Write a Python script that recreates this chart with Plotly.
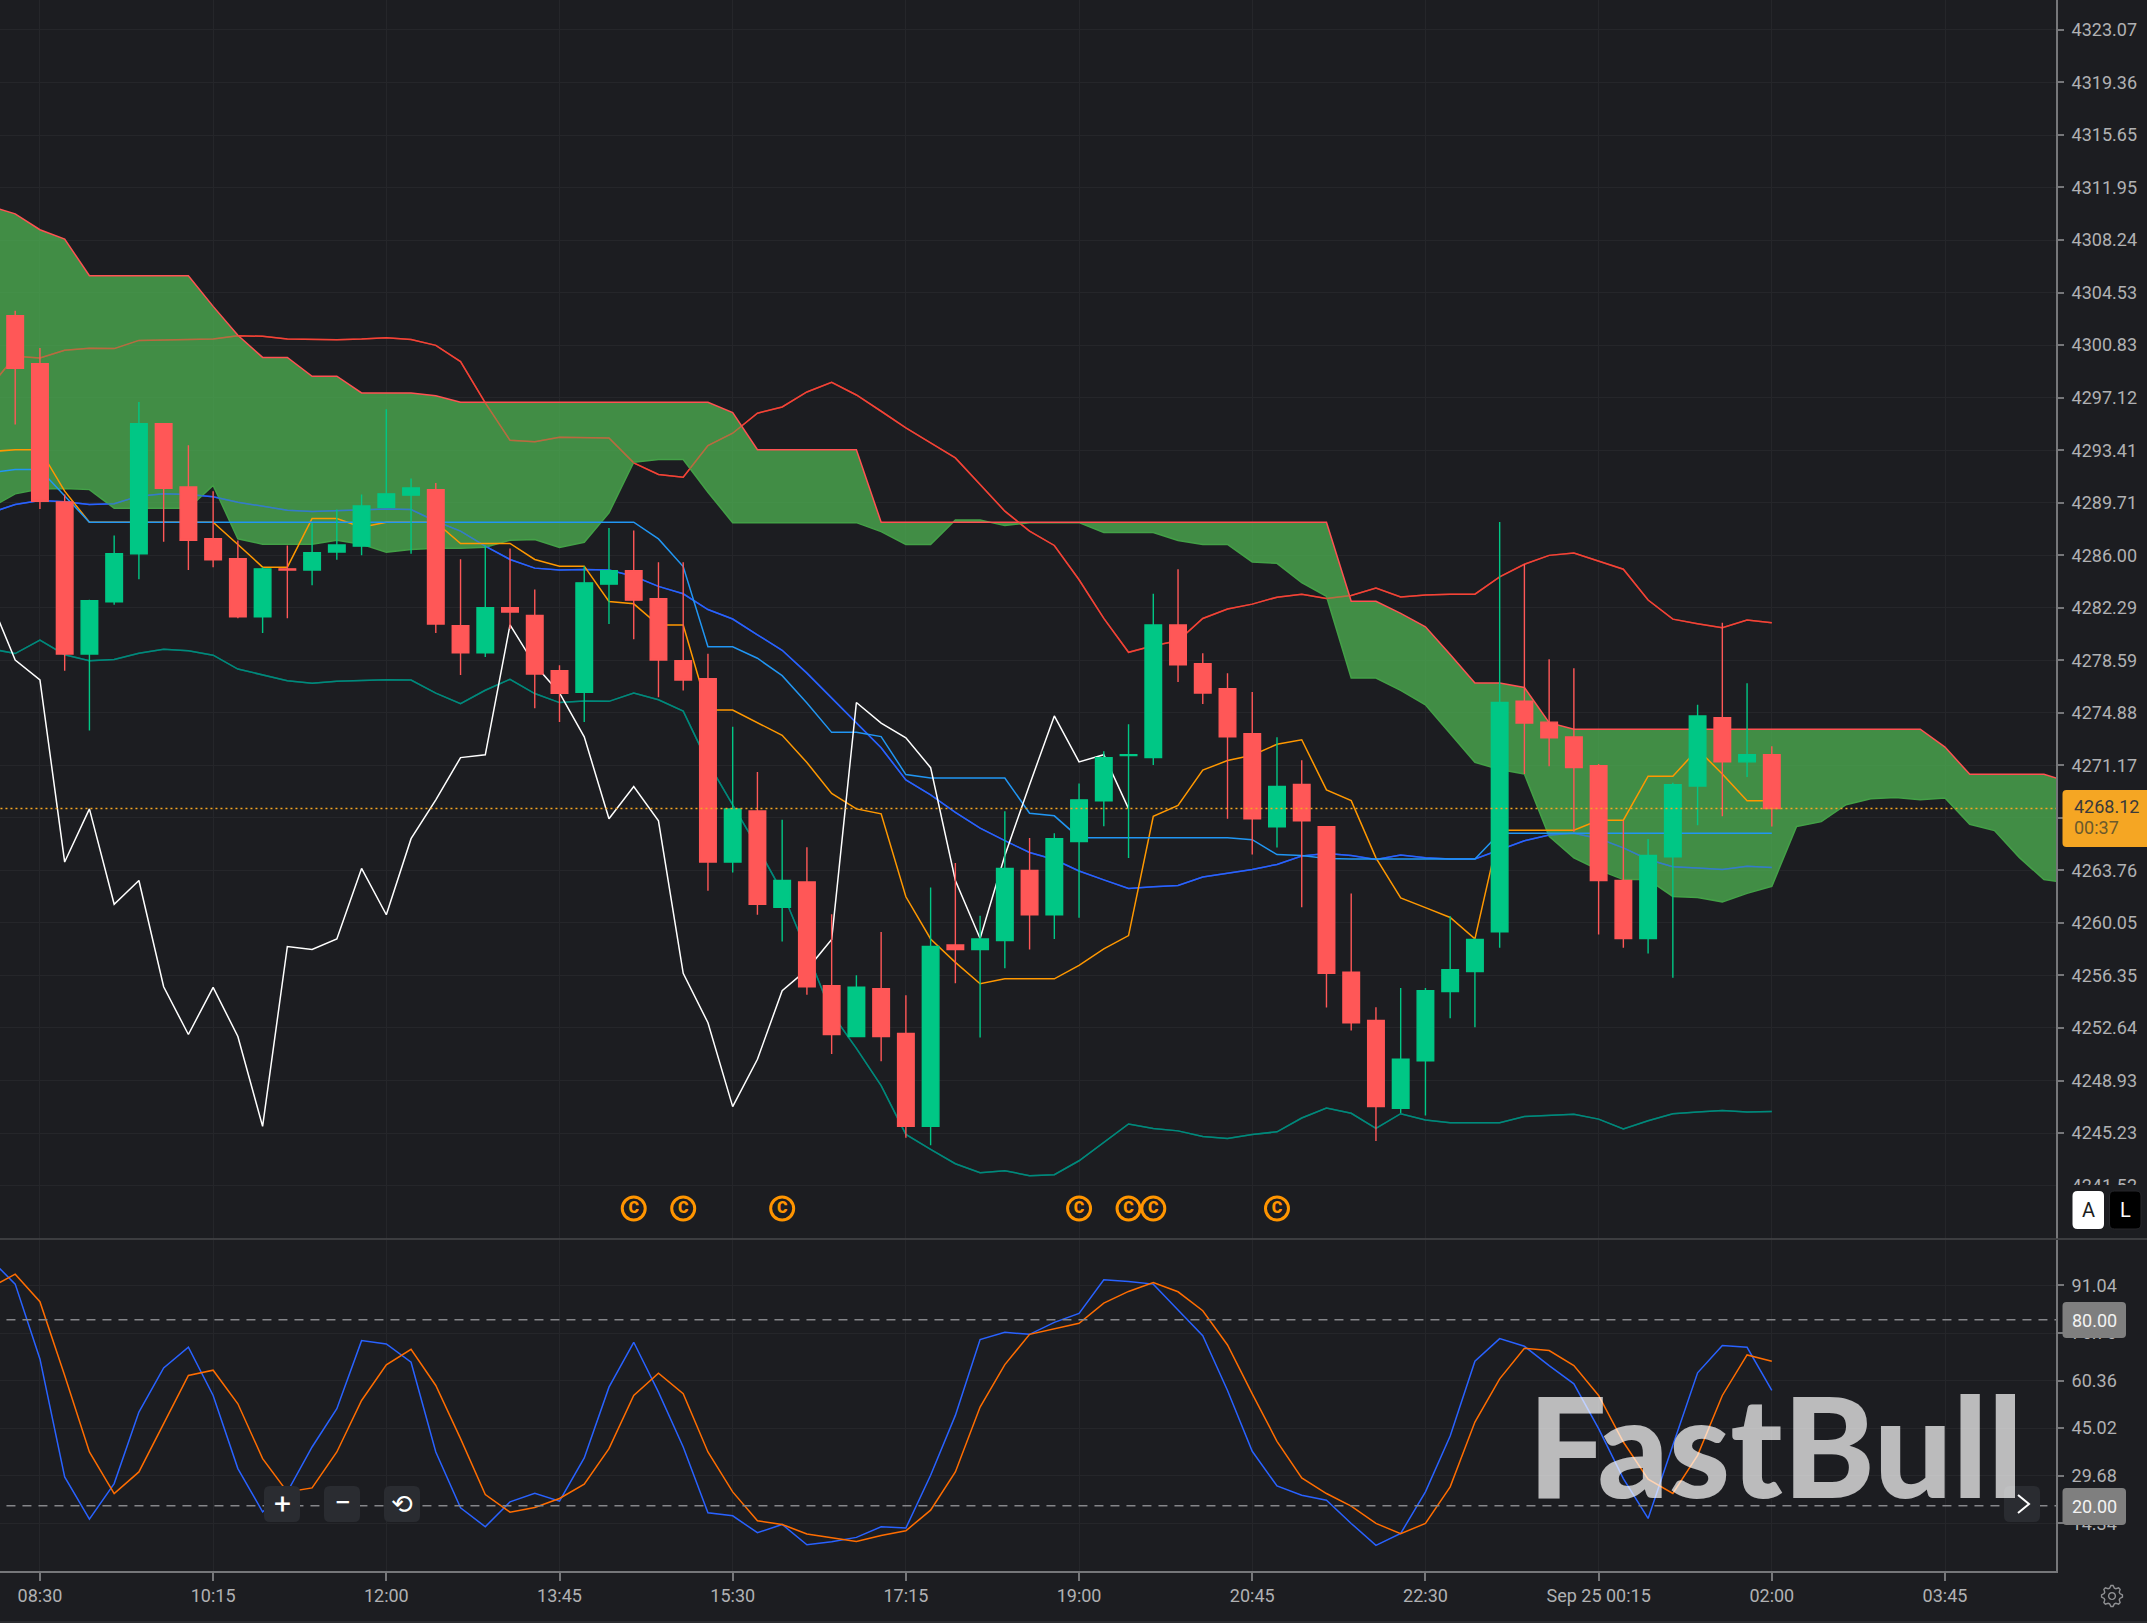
import math
import pandas as pd
import plotly.graph_objects as go

# ---------- data ----------
open_ = [4302.90,4299.52,4289.76,4279.03,4282.72,4286.10,4295.29,4290.82,4287.16,4285.75,4281.66,4285.04,
 4284.95,4286.22,4286.64,4289.39,4290.24,4290.63,4281.02,4279.12,4282.29,4281.75,4277.85,4276.32,
 4283.96,4284.90,4282.93,4278.56,4277.29,4264.35,4267.96,4261.16,4262.95,4255.62,4252.04,4255.41,
 4252.25,4245.70,4258.50,4258.18,4258.81,4263.76,4260.63,4265.79,4268.67,4271.86,4271.72,4281.08,
 4278.34,4276.59,4273.40,4266.84,4269.82,4266.84,4256.57,4253.17,4246.97,4250.33,4255.21,4256.63,
 4259.43,4275.70,4274.22,4273.18,4271.14,4263.05,4258.96,4264.72,4269.72,4274.54,4271.42,4271.92]
high = [4303.25,4300.62,4290.28,4282.85,4287.39,4296.82,4295.33,4293.76,4290.52,4287.04,4285.16,4286.69,
 4288.28,4289.22,4290.28,4296.30,4291.41,4291.10,4285.72,4286.69,4286.48,4283.58,4278.23,4285.23,
 4287.93,4287.74,4285.51,4285.51,4279.05,4273.89,4270.70,4267.33,4265.40,4260.67,4256.36,4259.41,
 4254.95,4262.56,4264.28,4260.56,4267.93,4266.04,4266.39,4269.89,4272.17,4274.07,4283.29,4285.01,
 4279.08,4277.68,4276.35,4273.15,4271.54,4266.90,4262.13,4254.11,4255.46,4255.46,4260.53,4258.95,
 4288.35,4285.36,4278.66,4278.03,4271.26,4267.27,4265.98,4269.94,4275.45,4281.24,4276.96,4272.52]
low = [4295.22,4289.27,4277.85,4273.64,4282.50,4284.31,4286.95,4284.95,4285.16,4281.56,4280.51,4281.56,
 4283.89,4285.68,4286.00,4289.39,4286.10,4280.51,4277.54,4278.81,4280.80,4275.20,4274.24,4274.24,
 4281.14,4280.08,4275.97,4276.46,4262.32,4263.62,4260.63,4258.74,4254.99,4250.81,4252.04,4250.29,
 4244.89,4244.36,4255.79,4251.97,4256.85,4258.18,4258.92,4260.42,4266.88,4264.63,4271.19,4277.05,
 4275.50,4267.40,4264.88,4265.37,4261.16,4254.08,4252.47,4244.67,4246.65,4246.46,4253.32,4252.70,
 4258.30,4270.57,4271.11,4266.48,4259.24,4258.30,4257.89,4256.19,4266.95,4267.58,4270.35,4266.86]
close = [4299.19,4289.81,4279.03,4282.79,4286.10,4295.29,4290.73,4287.06,4285.68,4281.66,4285.04,4284.95,
 4286.17,4286.73,4289.48,4290.33,4290.75,4281.14,4279.12,4282.29,4281.99,4277.62,4276.25,4284.05,
 4284.90,4282.83,4278.60,4277.20,4264.35,4268.10,4261.37,4263.05,4255.55,4252.18,4255.51,4252.04,
 4245.70,4258.39,4258.18,4258.92,4263.90,4260.63,4266.00,4268.74,4271.72,4271.92,4281.08,4278.27,
 4276.28,4273.19,4267.40,4269.68,4267.26,4256.50,4253.01,4247.09,4250.43,4255.27,4256.76,4258.89,
 4275.61,4274.16,4273.12,4271.01,4263.05,4258.96,4264.81,4269.81,4274.66,4271.42,4271.92,4268.12]

# all line series start one bar before the first candle
cloud_top = [4310.61,4310.09,4308.97,4308.31,4305.72,4305.72,4305.72,4305.72,4305.72,4303.56,4301.52,
 4299.96,4299.96,4298.63,4298.63,4297.45,4297.45,4297.45,4297.26,
 4296.79,4296.79,4296.79,4296.79,4296.79,4296.79,4296.79,4296.79,4296.79,4296.79,4296.79,4296.06,
 4293.45,4293.45,4293.45,4293.45,4293.45,
 4288.33,4288.33,4288.33,4288.33,4288.33,4288.33,4288.33,4288.33,4288.33,4288.33,4288.33,4288.33,
 4288.33,4288.33,4288.33,4288.33,4288.33,4288.33,4288.33,
 4282.75,4282.75,4281.90,4280.95,4279.00,4276.99,4276.99,4276.67,4274.19,
 4273.72,4273.72,4273.72,4273.72,4273.72,4273.72,4273.72,4273.72,4273.72,4273.72,4273.72,4273.72,
 4273.72,4273.72,4273.72,4272.46,4270.54,4270.54,4270.54,4270.54,4270.00]
cloud_bot = [4289.34,4290.33,4290.68,4290.71,4290.63,4289.32,4289.32,4289.32,4289.32,4290.92,4287.16,
 4286.78,4286.78,4286.78,4287.06,4286.78,4286.22,4286.41,4286.50,4286.50,4286.57,4287.06,4287.11,
 4286.55,4286.92,4288.99,4292.56,4292.75,4292.75,4290.45,4288.30,
 4288.30,4288.30,4288.30,4288.30,4288.30,4287.67,4286.76,4286.76,4288.48,4288.48,4288.09,
 4288.30,4288.30,4288.30,4287.60,4287.60,4287.60,4287.04,4286.76,4286.76,4285.53,4285.43,4284.06,4283.10,
 4277.34,4277.34,4276.46,4275.45,4273.40,4271.39,4270.88,4270.57,4266.16,4264.65,4263.80,4263.11,4263.11,
 4261.92,4261.85,4261.54,4262.14,4262.64,4266.86,4267.20,4268.40,4268.81,4268.90,4268.74,4268.87,
 4267.01,4266.57,4264.68,4263.11,4262.86]
bb_upper = [4297.92,4300.04,4299.92,4300.46,4300.60,4300.58,4301.16,4301.21,4301.21,4301.26,4301.49,4301.45,
 4301.26,4301.21,4301.21,4301.26,4301.35,4301.23,4300.81,4299.66,4296.75,4294.11,4294.00,4294.32,4294.32,
 4294.28,4292.52,4291.70,4291.50,4293.74,4294.61,4296.02,4296.46,4297.52,4298.20,4297.31,4296.16,4294.98,
 4293.93,4292.87,4290.99,4289.11,4287.70,4286.69,4284.27,4281.54,4279.15,4279.61,4279.96,4281.54,4282.20,
 4282.55,4283.04,4283.25,4282.94,4283.16,4283.69,4283.06,4283.19,4283.25,4283.25,4284.48,4285.36,4285.99,
 4286.15,4285.58,4285.01,4282.84,4281.49,4281.17,4280.89,4281.43,4281.24]
bb_mid = [4288.99,4289.58,4289.86,4289.77,4289.58,4289.63,4290.17,4290.33,4290.28,4290.12,4289.74,4289.46,
 4289.18,4289.08,4289.15,4289.22,4289.27,4289.22,4288.40,4287.70,4286.64,4285.70,4285.09,4284.95,4284.99,
 4284.95,4284.52,4283.80,4283.28,4282.17,4281.50,4280.38,4279.29,4277.68,4275.93,4274.24,4272.42,4270.14,
 4269.09,4267.86,4266.74,4265.86,4265.02,4264.53,4263.72,4263.09,4262.49,4262.60,4262.70,4263.30,4263.54,
 4263.83,4264.18,4264.77,4264.95,4264.81,4264.53,4264.84,4264.65,4264.56,4264.56,4265.22,4265.85,4266.26,
 4266.38,4266.01,4265.35,4264.53,4264.02,4263.93,4263.83,4264.06,4263.96]
bb_lower = [4279.40,4279.06,4280.01,4278.98,4278.56,4278.64,4279.09,4279.37,4279.26,4278.95,4277.97,4277.58,
 4277.14,4276.97,4277.11,4277.16,4277.22,4277.19,4276.27,4275.52,4276.47,4277.25,4276.24,4275.60,4275.71,
 4275.69,4276.27,4275.80,4275.00,4271.37,4268.35,4265.40,4262.25,4258.04,4253.66,4251.20,4248.57,4245.13,
 4244.08,4243.06,4242.43,4242.57,4242.22,4242.29,4243.27,4244.57,4245.87,4245.55,4245.38,4244.99,4244.85,
 4245.13,4245.31,4246.29,4246.99,4246.62,4245.55,4246.59,4246.15,4245.96,4245.96,4245.96,4246.40,4246.50,
 4246.56,4246.21,4245.52,4246.09,4246.59,4246.72,4246.81,4246.72,4246.75]
kijun = [4291.81,4292.05,4292.05,4290.16,4288.33,4288.33,4288.33,4288.33,4288.33,4288.33,4288.33,4288.33,
 4288.33,4288.33,4288.33,4288.33,4288.33,4288.33,4288.33,4288.33,4288.33,4288.33,4288.33,4288.33,4288.33,
 4288.33,4288.33,4287.15,4285.20,4279.54,4279.54,4278.73,4277.50,4275.57,4273.50,4273.50,4273.20,4270.52,4270.28,
 4270.28,4270.28,4270.28,4267.79,4267.61,4266.07,4266.07,4266.07,4266.07,4266.07,4266.07,4266.07,4265.93,
 4264.88,4264.81,4264.60,4264.56,4264.56,4264.56,4264.56,4264.56,4264.56,4266.38,4266.38,4266.38,4266.38,
 4266.38,4266.38,4266.38,4266.38,4266.38,4266.38,4266.38,4266.38]
tenkan = [4293.31,4293.45,4293.45,4290.52,4288.33,4288.33,4288.33,4288.33,4288.33,4288.33,4286.76,4285.16,
 4285.16,4288.59,4288.59,4287.98,4288.33,4288.33,4288.33,4286.83,4286.83,4286.83,4285.70,4285.23,4285.23,
 4282.74,4282.57,4281.07,4281.07,4275.08,4275.08,4274.21,4273.29,4271.37,4269.19,4268.10,4267.75,4261.90,
 4258.92,4257.27,4255.76,4256.11,4256.11,4256.11,4257.06,4258.22,4259.16,4267.58,4268.35,4270.84,4271.51,
 4271.89,4272.66,4272.98,4269.44,4268.68,4264.65,4261.82,4261.13,4260.44,4258.93,4266.60,4266.60,4266.60,
 4266.60,4267.30,4267.30,4270.41,4270.41,4272.30,4270.57,4268.68,4268.68]
chikou = [4282.83,4278.60,4277.20,4264.35,4268.10,4261.37,4263.05,4255.55,4252.18,4255.51,4252.04,4245.70,
 4258.39,4258.18,4258.92,4263.90,4260.63,4266.00,4268.74,4271.72,4271.92,4281.08,4278.27,4276.28,4273.19,
 4267.40,4269.68,4267.26,4256.50,4253.01,4247.09,4250.43,4255.27,4256.76,4258.89,4275.61,4274.16,4273.12,
 4271.01,4263.05,4258.96,4264.81,4269.81,4274.66,4271.42,4271.92,4268.12]
stoch_k = [99.50,91.47,67.35,29.30,15.68,27.15,50.20,64.46,71.10,55.56,31.98,18.04,24.47,38.94,51.27,73.25,
 72.18,66.28,37.34,19.33,13.22,21.26,24.04,21.47,35.41,58.24,72.71,56.63,38.94,17.72,16.75,11.29,13.97,
 7.43,8.39,9.79,13.22,12.79,29.83,49.13,73.57,75.93,75.28,79.14,82.04,92.87,92.33,91.47,83.11,74.86,57.17,
 37.55,26.40,23.40,21.79,14.29,7.21,11.07,24.47,42.48,66.60,73.89,71.43,65.21,59.31,44.84,28.76,15.90,
 39.48,62.85,71.64,71.10,57.17]
stoch_d = [90.40,94.69,85.79,61.99,37.34,23.94,30.90,46.45,61.99,63.71,52.88,35.19,24.47,25.76,37.34,53.95,
 65.42,70.46,58.78,41.62,23.61,17.93,19.43,22.33,26.94,38.41,55.56,62.74,56.10,37.34,24.47,15.15,13.97,
 10.86,9.79,8.50,10.43,11.93,18.57,30.90,51.81,65.50,75.28,77.00,78.82,85.36,89.11,92.00,89.00,82.90,71.85,
 56.10,40.77,28.97,23.94,19.86,14.29,10.96,14.29,26.08,46.98,60.92,70.78,70.03,65.21,55.56,40.55,28.55,
 23.94,36.26,55.56,68.64,66.60]

signal_bars = [25, 27, 31, 43, 45, 46, 51]
signal_price = 4239.90
stoch_levels = [80.0, 20.0]
countdown = "00:37"

price_ticks = [4323.07,4319.36,4315.65,4311.95,4308.24,4304.53,4300.83,4297.12,4293.41,4289.71,4286.00,4282.29,
 4278.59,4274.88,4271.17,4267.47,4263.76,4260.05,4256.35,4252.64,4248.93,4245.23,4241.52]
stoch_ticks = [91.04,75.70,60.36,45.02,29.68,14.34]
time_ticks = ["2023-09-24 08:30","2023-09-24 10:15","2023-09-24 12:00","2023-09-24 13:45","2023-09-24 15:30",
 "2023-09-24 17:15","2023-09-24 19:00","2023-09-24 20:45","2023-09-24 22:30","2023-09-25 00:15",
 "2023-09-25 02:00","2023-09-25 03:45"]
time_labels = ["08:30","10:15","12:00","13:45","15:30","17:15","19:00","20:45","22:30","Sep 25 00:15","02:00","03:45"]

# ---------- setup ----------
W, H = 2147, 1623
PLOT_R, PLOT_B, SPLIT = 2056, 1571, 1239
BG = "#1c1d21"; GRID = "#25262a"; AXIS = "#76777a"; TXT = "#b0b1b3"
UP = "#00c785"; DOWN = "#ff5757"

times = pd.date_range("2023-09-24 08:00", periods=86, freq="15min")
bars = times[1:73]
px = lambda v: v / PLOT_R
py = lambda v: 1 - v / PLOT_B

def rrect(x0, y0, x1, y1, r, fill, line=None):
    a, b, c, d = px(x0), py(y0), px(x1), py(y1)
    rx, ry = r / PLOT_R, r / PLOT_B
    path = (f"M {a+rx} {b} L {c-rx} {b} Q {c} {b} {c} {b-ry} L {c} {d+ry} Q {c} {d} {c-rx} {d} "
            f"L {a+rx} {d} Q {a} {d} {a} {d+ry} L {a} {b-ry} Q {a} {b} {a+rx} {b} Z")
    return dict(type="path", xref="paper", yref="paper", path=path, fillcolor=fill,
                line=dict(width=1 if line else 0, color=line or fill), layer="above")

def gear(cx, cy, outer, inner, hole, teeth=8):
    pts = []
    for i in range(teeth * 4):
        r = outer if i % 4 in (0, 1) else inner
        a = 2 * math.pi * (i - 0.5) / (teeth * 4)
        pts.append((cx + r * math.cos(a), cy + r * math.sin(a)))
    d = "M " + " L ".join(f"{px(a)} {py(b)}" for a, b in pts) + " Z "
    circ = [(cx + hole * math.cos(k * math.pi / 8), cy + hole * math.sin(k * math.pi / 8)) for k in range(16)]
    d += "M " + " L ".join(f"{px(a)} {py(b)}" for a, b in circ) + " Z"
    return dict(type="path", xref="paper", yref="paper", path=d, layer="above",
                line=dict(color="#8f9093", width=1.4))

def note(x, y, text, size=18, color=TXT, anchor="left", family="Roboto", weight=400, **kw):
    return dict(xref="paper", yref="paper", x=px(x), y=py(y), text=text, showarrow=False, xanchor=anchor,
                yanchor="middle", font=dict(size=size, color=color, family=family, weight=weight), **kw)

def line(ys, color, yaxis="y", **kw):
    return go.Scatter(x=times[:len(ys)], y=ys, mode="lines", yaxis=yaxis, xaxis="x", hoverinfo="skip",
                      line=dict(color=color, width=1.5), showlegend=False, **kw)

fig = go.Figure()
fig.add_trace(line(bb_upper, "#f44336"))
fig.add_trace(line(bb_lower, "#00897b"))
fig.add_trace(line(bb_mid, "#2962ff"))
fig.add_trace(line(cloud_bot, "#43a047"))
fig.add_trace(line(cloud_top, "#ff5252", fill="tonexty", fillcolor="rgba(78,176,82,0.76)"))
fig.add_trace(line(bb_upper, "rgba(244,67,54,0.55)"))
fig.add_trace(line(bb_mid, "rgba(41,98,255,0.6)"))
fig.add_trace(line(bb_lower, "rgba(0,137,123,0.6)"))
fig.add_trace(line(tenkan, "#ff9800"))
fig.add_trace(line(kijun, "#2196f3"))
fig.add_trace(line(chikou, "#ffffff"))

fig.add_trace(go.Candlestick(x=bars, open=open_, high=high, low=low, close=close, yaxis="y3", xaxis="x",
    increasing=dict(line=dict(color=UP, width=1.4), fillcolor=UP),
    decreasing=dict(line=dict(color=DOWN, width=1.4), fillcolor=DOWN),
    whiskerwidth=0, showlegend=False, hoverinfo="skip"))
fig.add_trace(go.Scatter(x=[times[0], times[-1]], y=[close[-1], close[-1]], mode="lines", yaxis="y3", xaxis="x",
    line=dict(color="#f5a623", width=1.5, dash="2px,3px"), showlegend=False, hoverinfo="skip"))
fig.add_trace(go.Scatter(x=[bars[i] for i in signal_bars], y=[signal_price] * len(signal_bars),
    mode="markers+text", text=["C"] * len(signal_bars), textposition="middle center", yaxis="y3", xaxis="x",
    textfont=dict(color="#ff9500", size=16, family="Roboto", weight=900),
    marker=dict(symbol="circle-open", size=23, color="#ff9500", line=dict(color="#ff9500", width=3)),
    showlegend=False, hoverinfo="skip"))

fig.add_trace(go.Scatter(x=times[:73], y=stoch_k, mode="lines", xaxis="x2", yaxis="y2",
    line=dict(color="#2962ff", width=1.5), showlegend=False, hoverinfo="skip"))
fig.add_trace(go.Scatter(x=times[:73], y=stoch_d, mode="lines", xaxis="x2", yaxis="y2",
    line=dict(color="#ff6d00", width=1.5), showlegend=False, hoverinfo="skip"))
for lv in stoch_levels:
    fig.add_trace(go.Scatter(x=[times[0], times[-1]], y=[lv, lv], mode="lines", xaxis="x2", yaxis="y2",
        line=dict(color="#85868a", width=1.5, dash="9px,7px"), showlegend=False, hoverinfo="skip"))

x_range = ["2023-09-24 08:05:47", "2023-09-25 04:52:18"]
main_range = [4237.75, 4325.18]
stoch_range = [-1.05, 105.70]
y_common = dict(side="right", showgrid=True, gridcolor=GRID, gridwidth=1, zeroline=False, showline=True,
    linecolor=AXIS, linewidth=2, ticks="outside", ticklen=6, tickwidth=1.5, tickcolor=AXIS, ticklabelstandoff=4,
    tickfont=dict(size=18, color=TXT, family="Roboto"), tickmode="array", fixedrange=True)

shapes = [
    dict(type="rect", xref="paper", yref="paper", x0=px(PLOT_R + 2), x1=px(W), y0=py(1185), y1=py(SPLIT - 1),
         fillcolor=BG, line=dict(width=0), layer="above"),
    dict(type="line", xref="paper", yref="paper", x0=0, x1=px(W), y0=py(SPLIT), y1=py(SPLIT),
         line=dict(color="#47484b", width=1.5), layer="above"),
    dict(type="rect", xref="paper", yref="paper", x0=0, x1=px(W), y0=py(1621), y1=py(1623),
         fillcolor="#2a2b2f", line=dict(width=0), layer="above"),
    rrect(2062.5, 790, 2150, 847, 4, "#f5a623"),
    rrect(2062.5, 1302, 2126, 1338, 4, "#7f7f7f"),
    rrect(2062.5, 1488, 2126, 1525, 4, "#7f7f7f"),
    rrect(2072.5, 1191, 2104, 1229, 5, "#ffffff"),
    rrect(2109.5, 1191, 2141, 1229, 5, "#000000", "#26272b"),
    rrect(264, 1486, 300, 1522, 6, "#2a2c31"),
    rrect(324, 1486, 360, 1522, 6, "#2a2c31"),
    rrect(384, 1486, 420, 1522, 6, "#2a2c31"),
    rrect(2004, 1486, 2040, 1522, 6, "#2a2c31"),
    dict(type="path", xref="paper", yref="paper", layer="above", line=dict(color="#ffffff", width=2),
         path=f"M {px(2018)} {py(1495)} L {px(2029)} {py(1504)} L {px(2018)} {py(1513)}"),
    gear(2112, 1596, 10.5, 8.2, 3.4),
]
annotations = [
    note(1775, 1444, "FastBull", size=139, color="rgba(255,255,255,0.70)", anchor="center", family="Lato", weight=900),
    note(2072, 806, f"{close[-1]:.2f}", color="#3a3a3a"),
    note(2072, 827, countdown, color="#6b5a2c"),
    note(2094, 1320, f"{stoch_levels[0]:.2f}", color="#f2f2f2", anchor="center"),
    note(2094, 1506.5, f"{stoch_levels[1]:.2f}", color="#f2f2f2", anchor="center"),
    note(2088, 1210, "A", size=20, color="#1c1d21", anchor="center"),
    note(2125, 1210, "L", size=20, color="#ffffff", anchor="center"),
    note(282, 1503, "+", size=30, color="#ffffff", anchor="center"),
    note(342, 1502, "\u2212", size=30, color="#ffffff", anchor="center"),
    note(402, 1504, "\u27f2", size=26, color="#ffffff", anchor="center", family="DejaVu Sans"),
]

fig.update_layout(
    width=W, height=H, autosize=False, paper_bgcolor=BG, plot_bgcolor=BG,
    margin=dict(l=0, r=W - PLOT_R, t=0, b=H - PLOT_B, pad=0), showlegend=False, dragmode=False,
    boxgap=0.33, boxgroupgap=0, boxmode="overlay",
    xaxis=dict(type="date", range=x_range, domain=[0, 1], anchor="y", showticklabels=False, ticks="",
        tickmode="array", tickvals=time_ticks, showgrid=True, gridcolor=GRID, zeroline=False,
        rangeslider=dict(visible=False), fixedrange=True),
    xaxis2=dict(type="date", range=x_range, domain=[0, 1], anchor="y2", matches="x", tickmode="array",
        tickvals=time_ticks, ticktext=time_labels, showgrid=True, gridcolor=GRID, zeroline=False, showline=True,
        linecolor=AXIS, linewidth=2, ticks="outside", ticklen=8, tickwidth=1.5, tickcolor=AXIS, ticklabelstandoff=-1,
        tickfont=dict(size=18, color=TXT, family="Roboto"), tickangle=0, fixedrange=True),
    yaxis=dict(domain=[1 - SPLIT / PLOT_B, 1], range=main_range, tickvals=price_ticks,
        ticktext=[f"{v:.2f}" for v in price_ticks], anchor="x", **y_common),
    yaxis3=dict(overlaying="y", range=main_range, visible=False, side="right", anchor="x", fixedrange=True),
    yaxis2=dict(domain=[0, 1 - (SPLIT + 1) / PLOT_B], range=stoch_range, tickvals=stoch_ticks,
        ticktext=[f"{v:.2f}" for v in stoch_ticks], anchor="x2", **y_common),
    shapes=shapes, annotations=annotations,
)

fig.write_html("out.html", config=dict(displayModeBar=False, staticPlot=False),
               post_script=f"document.body.style.margin='0';document.body.style.background='{BG}';"
                           "document.documentElement.style.overflow='hidden';")
